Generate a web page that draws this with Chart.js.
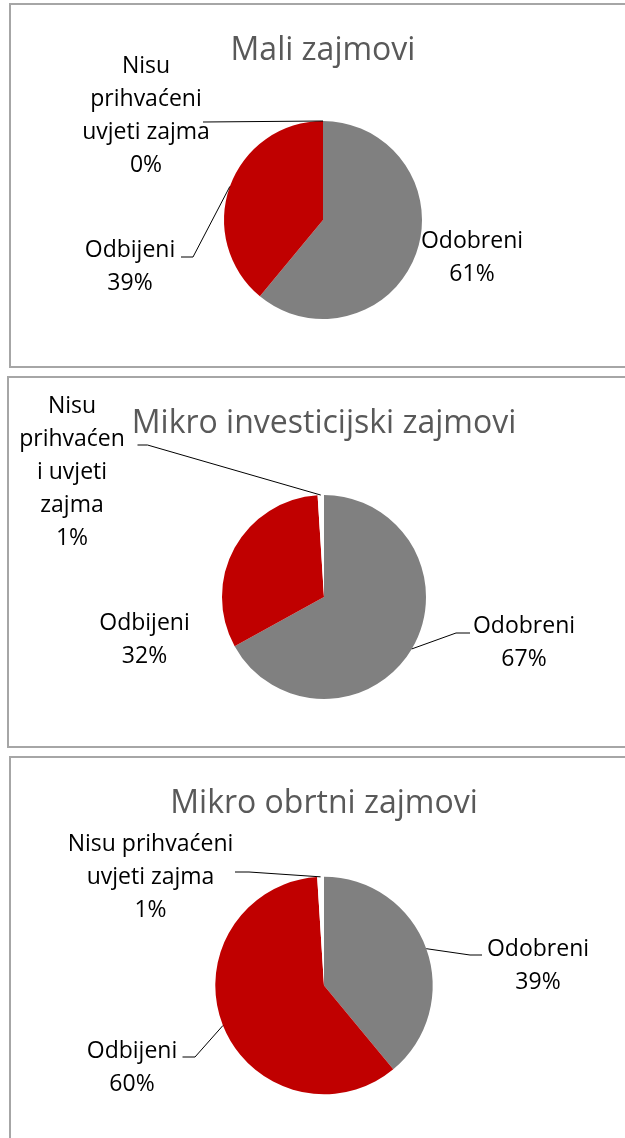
<!DOCTYPE html>
<html><head><meta charset="utf-8">
<script src="https://cdn.jsdelivr.net/npm/chart.js@4.4.1/dist/chart.umd.min.js"></script>
<style>
html,body{margin:0;padding:0;background:#fff;width:625px;height:1138px;overflow:hidden;position:relative}
.panel{position:absolute;box-sizing:border-box;border:2px solid #A6A6A6;background:#fff}
canvas{position:absolute;left:0}
</style></head><body>
<div class="panel" style="left:9px;top:3px;width:640px;height:365px"></div>
<div class="panel" style="left:7px;top:376px;width:640px;height:372px"></div>
<div class="panel" style="left:9px;top:756px;width:640px;height:420px"></div>
<canvas id="c1" width="625" height="370" style="top:0"></canvas>
<canvas id="c2" width="625" height="380" style="top:370px"></canvas>
<canvas id="c3" width="625" height="388" style="top:750px"></canvas>
<script>
// ---- data ----
const categories = ['Odobreni', 'Odbijeni', 'Nisu prihvaćeni uvjeti zajma'];
const titles = ['Mali zajmovi', 'Mikro investicijski zajmovi', 'Mikro obrtni zajmovi'];
const maliValues = [61, 39, 0];
const investValues = [67, 32, 1];
const obrtniValues = [39, 60, 1];
// wrapped label text as shown in each chart
const maliLabelLines = [['Odobreni'], ['Odbijeni'], ['Nisu', 'prihvaćeni', 'uvjeti zajma']];
const investLabelLines = [['Odobreni'], ['Odbijeni'], ['Nisu', 'prihvaćen', 'i uvjeti', 'zajma']];
const obrtniLabelLines = [['Odobreni'], ['Odbijeni'], ['Nisu prihvaćeni', 'uvjeti zajma']];

// ---- styles / layout ----
const sliceColors = ['#808080', '#C00000', '#FFFFFF'];
const layouts = [
  { cx: 323, cy: 220, r: 99, titleBaseline: 60, labels: [
    { dx: 149, dy: 28 },
    { dx: -193, dy: 37, leader: [[-130, 37], [-142, 37]] },
    { dx: -177, dy: -147, leader: [[-120, -98]] } ] },
  { cx: 324, cy: 227, r: 102, titleBaseline: 63, labels: [
    { dx: 200, dy: 36, leader: [[132, 36], [146, 36]] },
    { dx: -179.5, dy: 33 },
    { dx: -252, dy: -184, leader: [[-176.5, -152], [-186.5, -152]] } ] },
  { cx: 324, cy: 235.5, r: 108.7, titleBaseline: 63, labels: [
    { dx: 214, dy: -29.5, leader: [[146, -30.5], [158, -30.5]] },
    { dx: -192, dy: 72.5, leader: [[-129, 71.5], [-141.5, 71.5]] },
    { dx: -173.5, dy: -134.5, leader: [[-75, -113.5], [-89, -113.5]] } ] }
];

const pieLabels = {
  id: 'pieLabels',
  afterDatasetsDraw(chart, args, opts) {
    const ctx = chart.ctx;
    const meta = chart.getDatasetMeta(0);
    const values = chart.data.datasets[0].data;
    const L = opts.layout;
    ctx.save();
    const c0 = meta.data[0].getProps(['x', 'y'], true);
    ctx.font = '32px "Open Sans"';
    ctx.fillStyle = '#595959';
    ctx.textAlign = 'center';
    ctx.textBaseline = 'alphabetic';
    ctx.fillText(opts.title, c0.x, L.titleBaseline);
    ctx.font = '23px "Open Sans"';
    ctx.fillStyle = '#000000';
    ctx.strokeStyle = '#000000';
    ctx.lineWidth = 1;
    meta.data.forEach((arc, i) => {
      const p = arc.getProps(['x', 'y', 'startAngle', 'endAngle', 'outerRadius'], true);
      const mid = (p.startAngle + p.endAngle) / 2;
      const ex = p.x + Math.cos(mid) * p.outerRadius;
      const ey = p.y + Math.sin(mid) * p.outerRadius;
      const lab = L.labels[i];
      if (lab.leader) {
        ctx.beginPath();
        ctx.moveTo(ex, ey);
        lab.leader.forEach(([lx, ly]) => ctx.lineTo(p.x + lx, p.y + ly));
        ctx.stroke();
      }
      const lines = [...opts.lines[i], values[i] + '%'];
      lines.forEach((t, k) => ctx.fillText(t, p.x + lab.dx, p.y + lab.dy + k * 33));
    });
    ctx.restore();
  }
};

function makePie(id, values, title, lines, L) {
  const cv = document.getElementById(id);
  const W = cv.width, H = cv.height;
  return new Chart(cv, {
    type: 'pie',
    data: { labels: categories, datasets: [{ data: values, backgroundColor: sliceColors, borderWidth: 0, hoverOffset: 0 }] },
    options: {
      responsive: false, animation: false, events: [],
      layout: { padding: { left: L.cx - L.r, right: W - L.cx - L.r, top: L.cy - L.r, bottom: H - L.cy - L.r } },
      plugins: { legend: { display: false }, tooltip: { enabled: false }, title: { display: false },
        pieLabels: { layout: L, title: title, lines: lines } }
    },
    plugins: [pieLabels]
  });
}

function build() {
  makePie('c1', maliValues, titles[0], maliLabelLines, layouts[0]);
  makePie('c2', investValues, titles[1], investLabelLines, layouts[1]);
  makePie('c3', obrtniValues, titles[2], obrtniLabelLines, layouts[2]);
}
Promise.all([document.fonts.load('32px "Open Sans"'), document.fonts.load('23px "Open Sans"')])
  .then(build, build);
</script>
</body></html>
